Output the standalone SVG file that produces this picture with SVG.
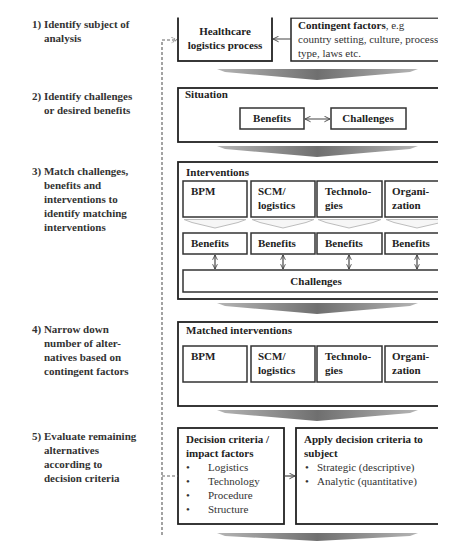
<svg xmlns="http://www.w3.org/2000/svg" width="469" height="557" viewBox="0 0 469 557">
<style>
text{font-family:"Liberation Serif","DejaVu Serif","Times New Roman",serif;font-size:11px}
.lbl{font-weight:bold;fill:#333}
.b{font-weight:bold;fill:#222}
.r{font-weight:normal;fill:#333}
.box{fill:#fff;stroke:#222;stroke-width:1.8}
.ibox{fill:#fff;stroke:#333;stroke-width:1.5}
.big{fill:url(#g)}
.chev{fill:#f6f6f6;stroke:#bdbdbd;stroke-width:1}
.con{fill:none;stroke:#444;stroke-width:1.2}
.dash{fill:none;stroke:#666;stroke-width:1.2;stroke-dasharray:3 2}
</style>
<defs>
<linearGradient id="g" x1="0" x2="1" y1="0" y2="0">
<stop offset="0" stop-color="#b5b5b5"/><stop offset="0.5" stop-color="#6f6f6f"/><stop offset="1" stop-color="#b5b5b5"/>
</linearGradient>
<marker id="ah" viewBox="0 0 10 10" refX="9" refY="5" markerWidth="7" markerHeight="7" orient="auto-start-reverse" markerUnits="userSpaceOnUse">
<path d="M1,1 L9,5 L1,9" fill="none" stroke="#444" stroke-width="1.3" stroke-dasharray="none"/>
</marker>
<marker id="ahd" viewBox="0 0 10 10" refX="9" refY="5" markerWidth="7" markerHeight="7" orient="auto" markerUnits="userSpaceOnUse">
<path d="M1,1 L9,5 L1,9" fill="none" stroke="#666" stroke-width="1.3" stroke-dasharray="2 1.5"/>
</marker>
<marker id="ahv" viewBox="0 0 10 10" refX="9" refY="5" markerWidth="6" markerHeight="8" orient="auto-start-reverse" markerUnits="userSpaceOnUse">
<path d="M1,1 L9,5 L1,9" fill="none" stroke="#333" stroke-width="1.3"/>
</marker>
<clipPath id="cp"><rect x="0" y="17.5" width="438" height="540"/></clipPath>
</defs>

<g id="steps">
<text class="lbl" x="32" y="28">1) Identify subject of</text>
<text class="lbl" x="44" y="42">analysis</text>
<text class="lbl" x="32" y="100">2) Identify challenges</text>
<text class="lbl" x="44" y="114">or desired benefits</text>
<text class="lbl" x="32" y="175">3) Match challenges,</text>
<text class="lbl" x="44" y="189">benefits and</text>
<text class="lbl" x="44" y="203">interventions to</text>
<text class="lbl" x="44" y="217">identify matching</text>
<text class="lbl" x="44" y="231">interventions</text>
<text class="lbl" x="32" y="333">4) Narrow down</text>
<text class="lbl" x="44" y="347">number of alter-</text>
<text class="lbl" x="44" y="361">natives based on</text>
<text class="lbl" x="44" y="375">contingent factors</text>
<text class="lbl" x="32" y="440">5) Evaluate remaining</text>
<text class="lbl" x="44" y="454">alternatives</text>
<text class="lbl" x="44" y="468">according to</text>
<text class="lbl" x="44" y="482">decision criteria</text>
</g>

<g clip-path="url(#cp)">
<g id="bigarrows">
<polygon class="big" points="217,69 418,69 410,72 317,80 225,72"/>
<polygon class="big" points="217,146 418,146 410,149 317,157 225,149"/>
<polygon class="big" points="217,303 418,303 410,306 317,314 225,306"/>
<polygon class="big" points="217,410 418,410 410,413 317,421 225,413"/>
<polygon class="big" points="217,533 418,533 410,536 317,541 225,536"/>
</g>

<g id="healthcare">
<rect class="box" x="178" y="14" width="94" height="47"/>
<text class="b" x="225" y="35" text-anchor="middle">Healthcare</text>
<text class="b" x="225" y="49" text-anchor="middle">logistics process</text>
</g>
<g id="contingent">
<rect class="box" x="291" y="18" width="170" height="43" style="stroke-width:1.5"/>
<text x="298" y="29"><tspan class="b">Contingent factors</tspan><tspan class="r">, e.g</tspan></text>
<text class="r" x="298" y="43">country setting, culture, process</text>
<text class="r" x="298" y="57">type, laws etc.</text>
</g>

<g id="situation">
<rect class="box" x="178" y="88" width="290" height="54"/>
<text class="b" x="185" y="98">Situation</text>
</g>
<g id="sit-benefits">
<rect class="ibox" x="240" y="108" width="64" height="21"/>
<text class="b" x="272" y="122" text-anchor="middle">Benefits</text>
</g>
<g id="sit-challenges">
<rect class="ibox" x="331" y="108" width="75" height="21"/>
<text class="b" x="368" y="122" text-anchor="middle">Challenges</text>
</g>

<g id="interventions">
<rect class="box" x="178" y="162" width="290" height="137"/>
<text class="b" x="186" y="176">Interventions</text>
</g>
<g id="int-bpm"><rect class="ibox" x="183" y="181" width="64" height="36"/><text class="b" x="191" y="195">BPM</text></g>
<g id="int-scm"><rect class="ibox" x="251" y="181" width="64" height="36"/><text class="b" x="258" y="195">SCM/</text><text class="b" x="258" y="209">logistics</text></g>
<g id="int-tech"><rect class="ibox" x="317" y="181" width="65" height="36"/><text class="b" x="325" y="195">Technolo-</text><text class="b" x="325" y="209">gies</text></g>
<g id="int-org"><rect class="ibox" x="385" y="181" width="65" height="36"/><text class="b" x="392" y="195">Organi-</text><text class="b" x="392" y="209">zation</text></g>

<g id="chevrons">
<polygon class="chev" points="184,219.5 246,219.5 238,222.5 215,228 192,222.5"/>
<polygon class="chev" points="252,219.5 314,219.5 306,222.5 283,228 260,222.5"/>
<polygon class="chev" points="318,219.5 381,219.5 373,222.5 349,228 326,222.5"/>
<polygon class="chev" points="386,219.5 449,219.5 441,222.5 417,228 394,222.5"/>
</g>

<g id="ben-1"><rect class="ibox" x="183" y="233" width="64" height="21"/><text class="b" x="191" y="247">Benefits</text></g>
<g id="ben-2"><rect class="ibox" x="251" y="233" width="64" height="21"/><text class="b" x="258" y="247">Benefits</text></g>
<g id="ben-3"><rect class="ibox" x="317" y="233" width="65" height="21"/><text class="b" x="325" y="247">Benefits</text></g>
<g id="ben-4"><rect class="ibox" x="385" y="233" width="65" height="21"/><text class="b" x="392" y="247">Benefits</text></g>

<g id="int-challenges">
<rect class="ibox" x="183" y="270" width="280" height="22"/>
<text class="b" x="316" y="285" text-anchor="middle">Challenges</text>
</g>

<g id="matched">
<rect class="box" x="178" y="322" width="290" height="84"/>
<text class="b" x="186" y="334">Matched interventions</text>
</g>
<g id="m-bpm"><rect class="ibox" x="183" y="346" width="64" height="36"/><text class="b" x="191" y="360">BPM</text></g>
<g id="m-scm"><rect class="ibox" x="251" y="346" width="64" height="36"/><text class="b" x="258" y="360">SCM/</text><text class="b" x="258" y="374">logistics</text></g>
<g id="m-tech"><rect class="ibox" x="317" y="346" width="65" height="36"/><text class="b" x="325" y="360">Technolo-</text><text class="b" x="325" y="374">gies</text></g>
<g id="m-org"><rect class="ibox" x="385" y="346" width="65" height="36"/><text class="b" x="392" y="360">Organi-</text><text class="b" x="392" y="374">zation</text></g>

<g id="decision">
<rect class="box" x="178" y="428" width="106" height="96"/>
<text class="b" x="186" y="443">Decision criteria /</text>
<text class="b" x="186" y="457">impact factors</text>
<text class="r" x="186" y="471">•</text><text class="r" x="208" y="471">Logistics</text>
<text class="r" x="186" y="485">•</text><text class="r" x="208" y="485">Technology</text>
<text class="r" x="186" y="499">•</text><text class="r" x="208" y="499">Procedure</text>
<text class="r" x="186" y="513">•</text><text class="r" x="208" y="513">Structure</text>
</g>
<g id="apply">
<rect class="box" x="296" y="428" width="172" height="96"/>
<text class="b" x="304" y="443">Apply decision criteria to</text>
<text class="b" x="304" y="457">subject</text>
<text class="r" x="305" y="471">•</text><text class="r" x="317" y="471">Strategic (descriptive)</text>
<text class="r" x="305" y="485">•</text><text class="r" x="317" y="485">Analytic (quantitative)</text>
</g>

<g id="connectors">
<line class="con" x1="291" y1="39" x2="273" y2="39" marker-end="url(#ah)"/>
<line class="con" x1="305" y1="119" x2="330" y2="119" marker-start="url(#ah)" marker-end="url(#ah)"/>
<line class="con" x1="215" y1="255" x2="215" y2="269" marker-start="url(#ahv)" marker-end="url(#ahv)"/>
<line class="con" x1="283" y1="255" x2="283" y2="269" marker-start="url(#ahv)" marker-end="url(#ahv)"/>
<line class="con" x1="349" y1="255" x2="349" y2="269" marker-start="url(#ahv)" marker-end="url(#ahv)"/>
<line class="con" x1="417" y1="255" x2="417" y2="269" marker-start="url(#ahv)" marker-end="url(#ahv)"/>
<line class="con" x1="284" y1="476" x2="295" y2="476" marker-end="url(#ah)"/>
<path class="dash" d="M162,535 L162,40 L177,40" marker-end="url(#ahd)"/>
<path class="dash" d="M162,476 L178,476"/>
</g>
</g>
</svg>
